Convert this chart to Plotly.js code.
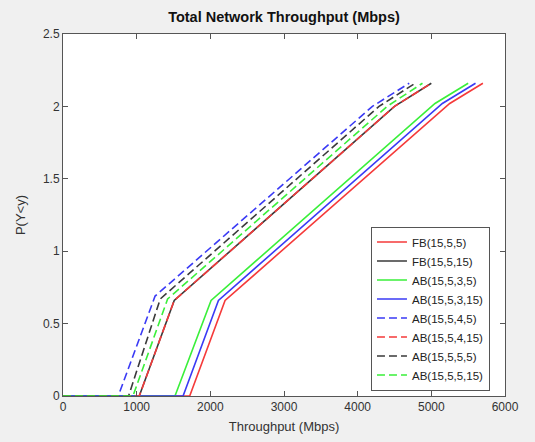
<!DOCTYPE html>
<html>
<head>
<meta charset="utf-8">
<script src="https://cdn.plot.ly/plotly-3.0.1.min.js"></script>
<style>
html,body{margin:0;padding:0;background:#f0f0f0;}
#chart{width:535px;height:442px;}
</style>
</head>
<body>
<div id="chart"></div>
<script>
// Series names (legend order)
var seriesNames = ["FB(15,5,5)", "FB(15,5,15)", "AB(15,5,3,5)", "AB(15,5,3,15)",
                   "AB(15,5,4,5)", "AB(15,5,4,15)", "AB(15,5,5,5)", "AB(15,5,5,15)"];

// Throughput values (Mbps) per series
var xFB_5_5      = [0, 1720, 2200, 5250, 5700];
var xFB_5_15     = [0, 1035, 1510, 4500, 5000];
var xAB_3_5      = [0, 1520, 2010, 5050, 5500];
var xAB_3_15     = [0, 1630, 2110, 5150, 5600];
var xAB_4_5      = [0, 750, 1250, 4200, 4700];
var xAB_4_15     = [0, 1035, 1510, 4500, 5000];
var xAB_5_5      = [0, 890, 1320, 4290, 4780];
var xAB_5_15     = [0, 950, 1420, 4400, 4880];

// P(Y<y) values per series
var yFB_5_5      = [0, 0, 0.66, 2.02, 2.16];
var yFB_5_15     = [0, 0, 0.66, 2.00, 2.16];
var yAB_3_5      = [0, 0, 0.66, 2.02, 2.16];
var yAB_3_15     = [0, 0, 0.66, 2.02, 2.16];
var yAB_4_5      = [0, 0, 0.69, 2.00, 2.16];
var yAB_4_15     = [0, 0, 0.66, 2.00, 2.16];
var yAB_5_5      = [0, 0, 0.67, 2.00, 2.16];
var yAB_5_15     = [0, 0, 0.67, 2.00, 2.16];

var xTicks = [0, 1000, 2000, 3000, 4000, 5000, 6000];
var yTicks = [0, 0.5, 1, 1.5, 2, 2.5];

var xs = [xFB_5_5, xFB_5_15, xAB_3_5, xAB_3_15, xAB_4_5, xAB_4_15, xAB_5_5, xAB_5_15];
var ys = [yFB_5_5, yFB_5_15, yAB_3_5, yAB_3_15, yAB_4_5, yAB_4_15, yAB_5_5, yAB_5_15];
var colors = ["#f53a3a", "#3a3a3a", "#3aef3a", "#3a3af5", "#3a3af5", "#f53a3a", "#3a3a3a", "#3aef3a"];
var dashes = ["solid", "solid", "solid", "solid", "8px,4px", "8px,4px", "8px,4px", "8px,4px"];

var traces = seriesNames.map(function(n, i){
  return {x: xs[i], y: ys[i], name: n, type: "scatter", mode: "lines",
          line: {color: colors[i], width: 1.6, dash: dashes[i]}};
});

var fam = "Liberation Sans, Arial, sans-serif";
var axisCommon = {
  showgrid: false, zeroline: false, showline: true, mirror: "ticks",
  linecolor: "#555555", linewidth: 1, ticks: "inside", ticklen: 5,
  tickcolor: "#555555", tickfont: {family: fam, size: 12, color: "#333333"}
};

var layout = {
  width: 535, height: 442,
  paper_bgcolor: "#f0f0f0", plot_bgcolor: "#ffffff",
  margin: {l: 63, r: 30, t: 34, b: 46},
  title: {text: "<b>Total Network Throughput (Mbps)</b>", x: 0.5, xref: "paper",
          y: 1 - 17/442, yref: "container", yanchor: "middle",
          font: {family: fam, size: 14.5, color: "#111111"}},
  xaxis: Object.assign({}, axisCommon, {range: [0, 6000], tickvals: xTicks,
          ticktext: xTicks.map(String),
          title: {text: "Throughput (Mbps)", standoff: 8,
                  font: {family: fam, size: 13, color: "#333333"}}}),
  yaxis: Object.assign({}, axisCommon, {range: [0, 2.5], tickvals: yTicks,
          ticktext: yTicks.map(String),
          title: {text: "P(Y<y)", standoff: 14,
                  font: {family: fam, size: 13, color: "#333333"}}}),
  showlegend: true,
  legend: {x: 0.966, y: 0.015, xanchor: "right", yanchor: "bottom",
           bgcolor: "#ffffff", bordercolor: "#555555", borderwidth: 1,
           font: {family: fam, size: 11.5, color: "#222222"},
           tracegroupgap: 0, itemwidth: 30}
};

Plotly.newPlot("chart", traces, layout, {displayModeBar: false, staticPlot: true});
</script>
</body>
</html>
